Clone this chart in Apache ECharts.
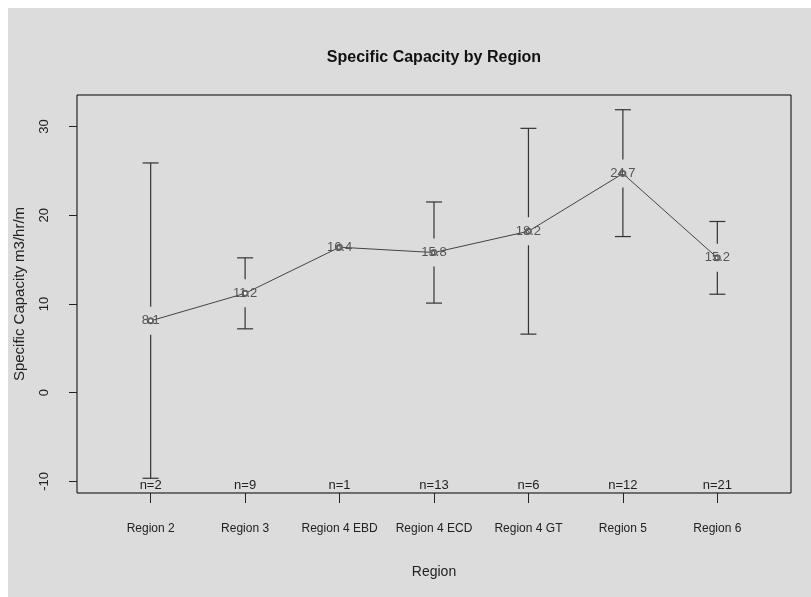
<!DOCTYPE html>
<html>
<head>
<meta charset="utf-8">
<script src="https://cdn.jsdelivr.net/npm/echarts@6/dist/echarts.min.js"></script>
<style>
    html, body { margin: 0; padding: 0; background: #fff; }
    #myChart { position: absolute; left: 8px; top: 8px; width: 803px; height: 589px; background: #dcdcdc; }
</style>
</head>
<body>
<div id="myChart"></div>
<script>
/*----------数据--------*/
var regions = ['Region 2', 'Region 3', 'Region 4 EBD', 'Region 4 ECD', 'Region 4 GT', 'Region 5', 'Region 6'];
var means = [8.1, 11.2, 16.4, 15.8, 18.2, 24.7, 15.2];
var lower = [-9.65, 7.2, null, 10.1, 6.6, 17.6, 11.1];
var upper = [25.9, 15.2, null, 21.5, 29.8, 31.9, 19.3];
var counts = [2, 9, 1, 13, 6, 12, 21];
var yTicks = [-10, 0, 10, 20, 30];

designChart();

function designChart() {
    var myChart = echarts.init(document.getElementById('myChart'));
    var xMin = 0.22, xMax = 7.78, yMin = -11.31, yMax = 33.56;

    var lineData = [];
    var barData = [];
    for (var i = 0; i < regions.length; i++) {
        lineData.push([i + 1, means[i]]);
        barData.push([i + 1, means[i], lower[i], upper[i], counts[i]]);
    }

    var tickX = regions.map(function (r, i) { return i + 1; });

    myChart.setOption({
        animation: false,
        title: {
            text: 'Specific Capacity by Region',
            left: 426,
            top: 42,
            padding: 0,
            textAlign: 'center',
            textStyle: { fontFamily: 'Liberation Sans', fontSize: 16, fontWeight: 'bold', color: '#111' }
        },
        grid: {
            left: 69, right: 20, top: 87, bottom: 104,
            outerBoundsMode: 'none',
            containLabel: false,
            show: true, borderColor: '#000', borderWidth: 1, backgroundColor: 'transparent'
        },
        xAxis: {
            type: 'value',
            min: xMin, max: xMax,
            name: 'Region',
            nameLocation: 'middle',
            nameGap: 72,
            nameTextStyle: { fontFamily: 'Liberation Sans', fontSize: 14, color: '#222' },
            axisLine: { show: false, onZero: false },
            splitLine: { show: false },
            axisTick: { show: true, length: 10, lineStyle: { color: '#222' }, customValues: tickX },
            axisLabel: {
                customValues: tickX,
                margin: 30,
                fontFamily: 'Liberation Sans', fontSize: 12, color: '#222',
                formatter: function (v) { return regions[Math.round(v) - 1]; }
            }
        },
        yAxis: {
            type: 'value',
            min: yMin, max: yMax,
            name: 'Specific Capacity m3/hr/m',
            nameLocation: 'middle',
            nameRotate: 90,
            nameGap: 50,
            nameTextStyle: { fontFamily: 'Liberation Sans', fontSize: 15, color: '#222' },
            axisLine: { show: false, onZero: false },
            splitLine: { show: false },
            axisTick: { show: true, length: 8, lineStyle: { color: '#222' }, customValues: yTicks },
            axisLabel: {
                customValues: yTicks,
                rotate: 90,
                margin: 26,
                fontFamily: 'Liberation Sans', fontSize: 13, color: '#222'
            }
        },
        series: [
            {
                /*误差线 + n 标签*/
                type: 'custom',
                data: barData,
                z: 3,
                renderItem: function (params, api) {
                    var x = api.value(0);
                    var m = api.coord([x, api.value(1)]);
                    var base = api.coord([x, yMin]);
                    var children = [];
                    var gap = 14, cap = 8;
                    var style = { stroke: '#333', lineWidth: 1.2 };
                    var lo = barData[params.dataIndex][2];
                    var hi = barData[params.dataIndex][3];
                    if (lo !== null && hi !== null) {
                        var pLo = api.coord([x, lo]);
                        var pHi = api.coord([x, hi]);
                        children.push({ type: 'line', shape: { x1: m[0], y1: pHi[1], x2: m[0], y2: m[1] - gap }, style: style });
                        children.push({ type: 'line', shape: { x1: m[0], y1: m[1] + gap, x2: m[0], y2: pLo[1] }, style: style });
                        children.push({ type: 'line', shape: { x1: m[0] - cap, y1: pHi[1], x2: m[0] + cap, y2: pHi[1] }, style: style });
                        children.push({ type: 'line', shape: { x1: m[0] - cap, y1: pLo[1], x2: m[0] + cap, y2: pLo[1] }, style: style });
                    }
                    children.push({
                        type: 'text',
                        style: {
                            x: m[0], y: base[1] - 8,
                            text: 'n=' + api.value(4),
                            align: 'center', verticalAlign: 'middle',
                            fill: '#222', fontSize: 13, fontFamily: 'Liberation Sans'
                        }
                    });
                    return { type: 'group', children: children };
                }
            },
            {
                /*均值折线*/
                type: 'line',
                data: lineData,
                z: 4,
                symbol: 'emptyCircle',
                symbolSize: 5,
                itemStyle: { color: '#666', borderWidth: 1 },
                lineStyle: { color: '#444', width: 1 },
                label: {
                    show: true,
                    position: 'inside',
                    fontFamily: 'Liberation Sans', fontSize: 13, color: '#555',
                    formatter: function (p) { return p.value[1].toFixed(1); }
                }
            }
        ]
    });
}
</script>
</body>
</html>
